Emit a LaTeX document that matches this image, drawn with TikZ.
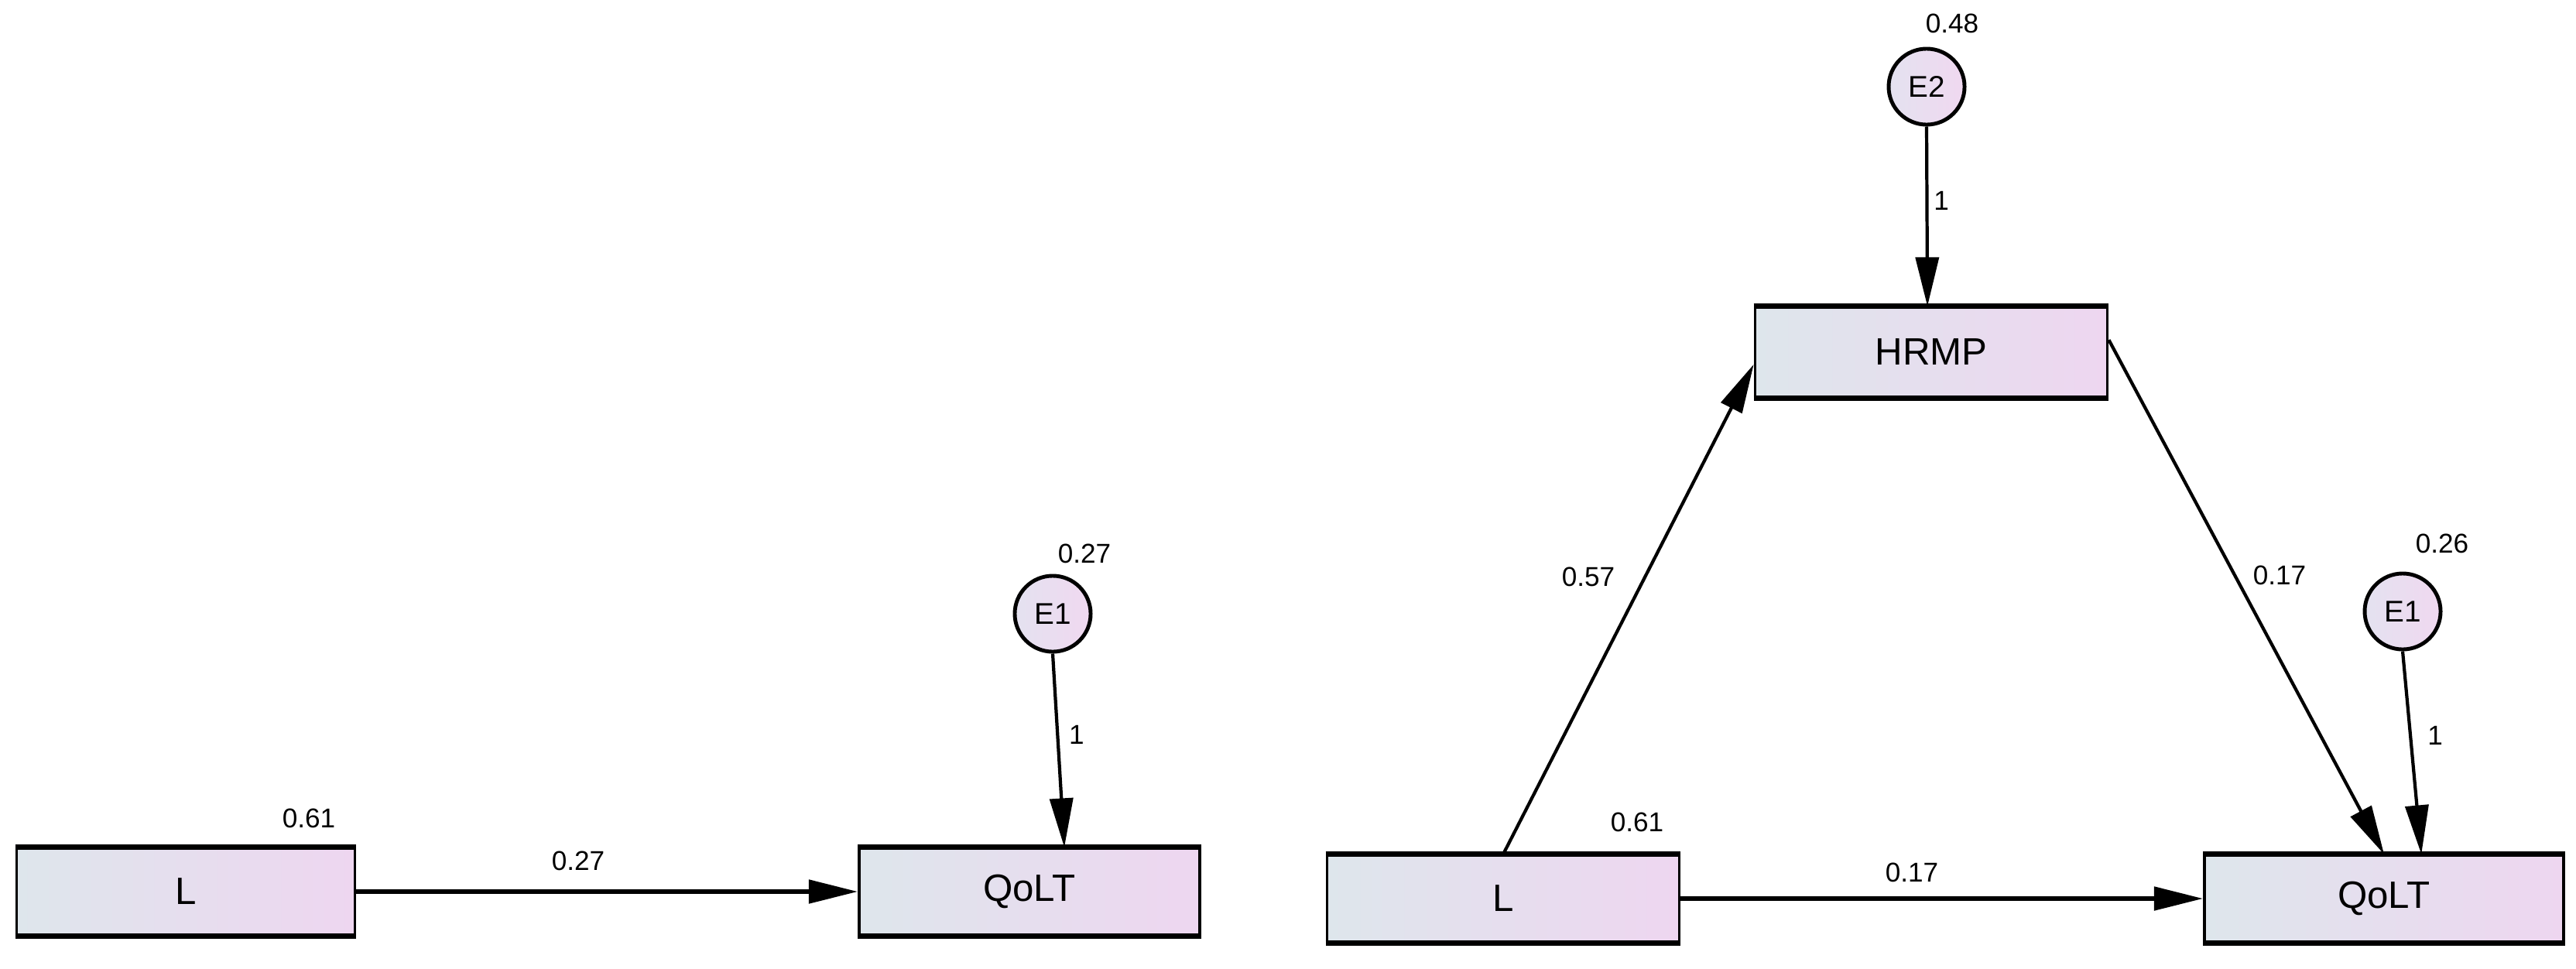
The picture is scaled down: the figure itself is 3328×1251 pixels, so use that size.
\documentclass[tikz,border=0pt]{standalone}
\usepackage{fontspec}
\setmainfont{Liberation Sans}
\usetikzlibrary{arrows.meta}
\definecolor{boxL}{RGB}{222,230,236}
\definecolor{boxR}{RGB}{238,214,240}
\definecolor{cirL}{RGB}{228,226,240}
\definecolor{cirR}{RGB}{240,216,240}
\tikzset{
  varbox/.style={draw=black, line width=1pt, left color=boxL, right color=boxR,
    minimum height=1.11cm, inner sep=0pt, font=\fontsize{14}{15}\selectfont},
  errc/.style={circle, draw=black, line width=1.4pt, left color=cirL, right color=cirR,
    minimum size=0.98cm, inner sep=0pt, font=\fontsize{11}{12}\selectfont},
  lbl/.style={inner sep=0pt, font=\fontsize{10}{11}\selectfont},
  path/.style={draw=black, line width=1.2pt, -{Triangle[length=18pt,width=8.5pt]}},
  hpath/.style={path, line width=1.6pt},
  edge/.style={line width=1.9pt},
}
\begin{document}
\begin{tikzpicture}[x=0.01cm,y=-0.01cm]
\useasboundingbox (0,0) rectangle (3328,1251);
% ---------- left model ----------
\node[varbox, minimum width=4.37cm] (L1) at (240,1152) {L};
\node[varbox, minimum width=4.40cm] (Q1) at (1330,1152) {QoLT};
\node[errc] (E1a) at (1360,793) {E1};
\draw[edge] (L1.north west) -- (L1.north east) (L1.south west) -- (L1.south east);
\draw[edge] (Q1.north west) -- (Q1.north east) (Q1.south west) -- (Q1.south east);
\draw[hpath] (L1.east) -- (Q1.west);
\draw[path] (E1a.south) -- ([xshift=12.8pt]Q1.north);
\node[lbl] (l61a) at (399,1057) {0.61};
\node[lbl] (l27a) at (747,1112) {0.27};
\node[lbl] (v27a) at (1401,715) {0.27};
\node[lbl] (one1) at (1391,949) {1};
% ---------- right model ----------
\node[varbox, minimum width=4.55cm] (L2) at (1942,1161) {L};
\node[varbox, minimum width=4.64cm] (Q2) at (3080,1161) {QoLT};
\node[varbox, minimum width=4.55cm, minimum height=1.15cm] (H) at (2495,455) {HRMP};
\node[errc] (E2) at (2489,112) {E2};
\node[errc] (E1b) at (3104,790) {E1};
\foreach \n in {L2,Q2,H}{
  \draw[edge] (\n.north west) -- (\n.north east) (\n.south west) -- (\n.south east);
}
\draw[hpath] (L2.east) -- (Q2.west);
\draw[path] (L2.north) -- ([yshift=-4.5pt]H.west);
\draw[path] ([yshift=4.5pt]H.east) -- (Q2.north);
\draw[path] (E2.south) -- ([xshift=-1.4pt]H.north);
\draw[path] (E1b.south) -- ([xshift=13.7pt]Q2.north);
\node[lbl] (v48) at (2522,30) {0.48};
\node[lbl] (one2) at (2508,259) {1};
\node[lbl] (l57) at (2052,745) {0.57};
\node[lbl] (l17h) at (2945,743) {0.17};
\node[lbl] (v26) at (3155,702) {0.26};
\node[lbl] (one3) at (3146,950) {1};
\node[lbl] (l61b) at (2115,1062) {0.61};
\node[lbl] (l17b) at (2470,1127) {0.17};
\end{tikzpicture}
\end{document}
